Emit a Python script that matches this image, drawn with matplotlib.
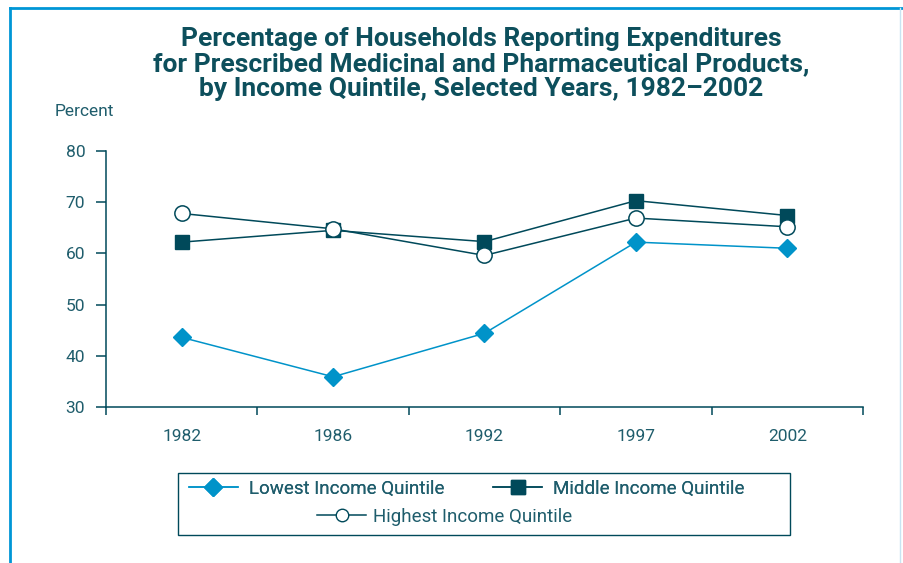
import matplotlib.pyplot as plt
from matplotlib.lines import Line2D
from matplotlib.patches import Rectangle

years = ['1982', '1986', '1992', '1997', '2002']
lowest = [43.6, 35.9, 44.4, 62.2, 61.0]
middle = [62.2, 64.5, 62.3, 70.3, 67.4]
highest = [67.8, 64.8, 59.6, 66.9, 65.2]

light_blue = '#0093c9'
dark_teal = '#00495a'
text_col = '#1f5d6c'

plt.rcParams['font.family'] = ['Roboto', 'DejaVu Sans']

fig = plt.figure(figsize=(9.04, 5.63), dpi=100)
ax = fig.add_axes([106 / 904, 1 - 407 / 563, 757 / 904, 256 / 563])

x = list(range(len(years)))
ax.plot(x, lowest, color=light_blue, lw=1.1, marker='D', ms=9.2,
        mfc=light_blue, mec=light_blue, label='Lowest Income Quintile', zorder=3)
ax.plot(x, middle, color=dark_teal, lw=1.1, marker='s', ms=10,
        mfc=dark_teal, mec=dark_teal, label='Middle Income Quintile', zorder=3)
ax.plot(x, highest, color=dark_teal, lw=1.1, marker='o', ms=11,
        mfc='white', mec=dark_teal, mew=1.1, label='Highest Income Quintile', zorder=4)

ax.set_xlim(-0.5, len(years) - 0.5)
ax.set_ylim(30, 80)
ax.set_yticks([30, 40, 50, 60, 70, 80])
ax.set_xticks([i - 0.5 for i in range(len(years) + 1)])
ax.set_xticklabels([])
ax.set_xticks(x, minor=True)
ax.set_xticklabels(years, minor=True)
ax.tick_params(axis='x', which='minor', length=0, pad=16, labelsize=12.5, labelcolor=text_col)
ax.tick_params(axis='x', which='major', length=6, width=1.1, color=dark_teal)
ax.tick_params(axis='y', length=7, width=1.1, color=dark_teal, pad=8,
               labelsize=12.5, labelcolor=text_col)
for s in ['top', 'right']:
    ax.spines[s].set_visible(False)
for s in ['left', 'bottom']:
    ax.spines[s].set_color(dark_teal)
    ax.spines[s].set_linewidth(1.1)

fig.text(55 / 904, 1 - 112 / 563, 'Percent', fontsize=12.5, color=text_col,
         ha='left', va='center')

title = ('Percentage of Households Reporting Expenditures\n'
         'for Prescribed Medicinal and Pharmaceutical Products,\n'
         'by Income Quintile, Selected Years, 1982\u20132002')
fig.text(481 / 904, 1 - 64 / 563, title, fontsize=19, fontweight='bold',
         color='#0d4f5c', ha='center', va='center', linespacing=1.07)

# legend: two entries on top row, one centred below, inside one box
h_low = Line2D([], [], color=light_blue, lw=1.1, marker='D', ms=9, mfc=light_blue, mec=light_blue)
h_mid = Line2D([], [], color=dark_teal, lw=1.1, marker='s', ms=10, mfc=dark_teal, mec=dark_teal)
h_high = Line2D([], [], color=dark_teal, lw=1.1, marker='o', ms=9, mfc='white', mec=dark_teal)
leg1 = fig.legend([h_low, h_mid], ['Lowest Income Quintile', 'Middle Income Quintile'],
                  ncol=2, frameon=False, loc='center', bbox_to_anchor=(467 / 904, 1 - 489 / 563),
                  fontsize=13.5, handlelength=2.6, columnspacing=2.6, handletextpad=0.6,
                  labelcolor=text_col)
leg2 = fig.legend([h_high], ['Highest Income Quintile'], frameon=False, loc='center',
                  bbox_to_anchor=(445 / 904, 1 - 517 / 563), fontsize=13.5,
                  handlelength=2.6, handletextpad=0.4, labelcolor=text_col)
fig.add_artist(leg1)
fig.patches.append(Rectangle((178 / 904, 1 - 535 / 563), 612 / 904, 62 / 563,
                             transform=fig.transFigure, fill=False,
                             ec=dark_teal, lw=1.0))

# outer page frame
fig.add_artist(Line2D([10 / 904, 10 / 904], [0, 1 - 8 / 563], transform=fig.transFigure,
                      color='#0096d6', lw=2))
fig.add_artist(Line2D([10 / 904, 1], [1 - 8 / 563, 1 - 8 / 563], transform=fig.transFigure,
                      color='#0096d6', lw=2))
fig.add_artist(Line2D([900 / 904, 900 / 904], [0, 1 - 8 / 563], transform=fig.transFigure,
                      color='#c8e4f2', lw=1))

fig.savefig('out.png', dpi=100)
